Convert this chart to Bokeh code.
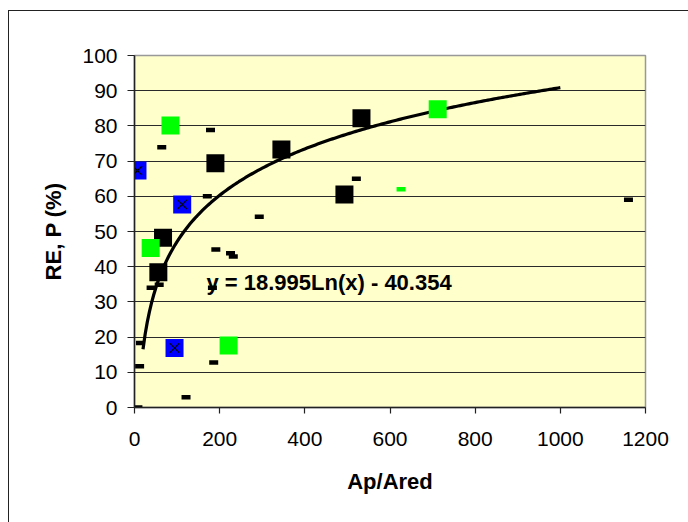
import numpy as np
from bokeh.plotting import figure
from bokeh.models import Range1d, Label, FixedTicker
from bokeh.embed import file_html
from bokeh.resources import INLINE

# ---- data ----
big_black_x = [56, 67, 190, 345, 493, 533]
big_black_y = [38.4, 48.2, 69.4, 73.3, 60.5, 82.2]

green_x = [38, 84.5, 221, 712]
green_y = [45.3, 80.1, 17.6, 84.7]

blue_x = [7, 94, 112]
blue_y = [67.3, 16.9, 57.7]

dash_x = [8, 12, 14, 39, 58, 64, 121, 171, 178.5, 183, 186, 191, 225.5, 232, 293, 521, 1160]
dash_y = [0, 11.7, 18.3, 34.0, 34.9, 73.9, 2.9, 60.0, 78.8, 34.0, 12.8, 44.9, 43.8, 42.9, 54.2, 65, 59]

green_dash_x = [626]
green_dash_y = [62]

# logarithmic trendline shown on the chart: y = 18.995 Ln(x) - 40.354
trend_a = 18.995
trend_b = -40.354
trend_x_start = 20
trend_x_end = 1000

x_ticks = [0, 200, 400, 600, 800, 1000, 1200]
y_ticks = [0, 10, 20, 30, 40, 50, 60, 70, 80, 90, 100]

FONT = "Liberation Sans"

p = figure(
    frame_width=511, frame_height=352,
    min_border_left=134, min_border_right=43, min_border_top=55, min_border_bottom=115,
    x_range=Range1d(0, 1200), y_range=Range1d(0, 100),
    output_backend="svg", toolbar_location=None,
    background_fill_color="#FFFFCC", border_fill_color="white",
)

p.outline_line_color = "#999999"
p.outline_line_width = 1.5

p.xgrid.visible = False
p.ygrid.grid_line_color = "#2a2a2a"
p.ygrid.grid_line_width = 1

p.xaxis.ticker = FixedTicker(ticks=x_ticks)
p.yaxis.ticker = FixedTicker(ticks=y_ticks)
p.xaxis.minor_tick_line_color = None
p.yaxis.minor_tick_line_color = None
for ax in (p.xaxis, p.yaxis):
    ax.axis_line_color = "#222222"
    ax.axis_line_width = 1.5
    ax.major_tick_line_color = "#222222"
    ax.major_tick_line_width = 1.2
    ax.major_tick_in = 0
    ax.major_label_text_font = FONT
    ax.major_label_text_font_size = "21px"
    ax.major_label_text_color = "black"
    ax.axis_label_text_font = FONT
    ax.axis_label_text_font_size = "22px"
    ax.axis_label_text_font_style = "bold"
    ax.axis_label_text_color = "black"

p.yaxis.major_tick_out = 7
p.xaxis.major_tick_out = 6
p.yaxis.major_label_standoff = 10
p.xaxis.major_label_standoff = 18
p.yaxis.axis_label_standoff = 13
p.xaxis.axis_label_standoff = 20
p.xaxis.axis_label = "Ap/Ared"
p.yaxis.axis_label = "RE, P (%)"

# trendline
tx = np.arange(trend_x_start, trend_x_end + 1, 5, dtype=float)
ty = trend_a * np.log(tx) + trend_b
p.line(tx, ty, line_color="black", line_width=3.2)

# small dashes
p.rect(dash_x, dash_y, width=9, height=4.5, width_units="screen", height_units="screen",
       fill_color="black", line_color=None)
p.rect(green_dash_x, green_dash_y, width=9, height=4.5, width_units="screen", height_units="screen",
       fill_color="#00FF00", line_color=None)

# big markers
p.scatter(big_black_x, big_black_y, marker="square", size=18, fill_color="black", line_color=None)
p.scatter(green_x, green_y, marker="square", size=18, fill_color="#00FF00", line_color=None)
p.scatter(blue_x, blue_y, marker="square", size=18, fill_color="#0000FF", line_color=None)
p.scatter(blue_x, blue_y, marker="x", size=13, line_color="black", line_width=1.2)

# equation label
p.add_layout(Label(x=169, y=35.5, text=f"y = {trend_a}Ln(x) - {-trend_b}",
                   text_font=FONT, text_font_size="22px", text_font_style="bold",
                   text_color="black", text_baseline="alphabetic", text_align="left"))

# outer chart-area border (left and top edges visible in the window)
p.stylesheets = [
    ":host { position: relative; }"
    ":host::after { content: ''; position: absolute; left: 8px; top: 10px; right: 0; bottom: 0;"
    " border-left: 1.5px solid #222222; border-top: 1.5px solid #222222;"
    " pointer-events: none; z-index: 100; }"
]

open("out.html", "w").write(file_html(p, INLINE))
